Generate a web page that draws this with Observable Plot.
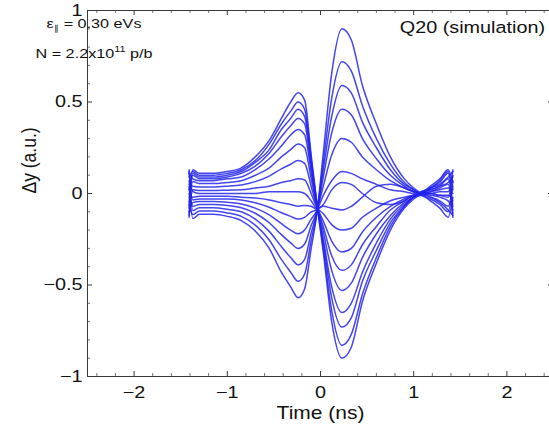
<!DOCTYPE html>
<html>
<head>
<meta charset="utf-8">
<script src="https://cdn.jsdelivr.net/npm/d3@7"></script>
<script src="https://cdn.jsdelivr.net/npm/@observablehq/plot@0.6"></script>
<style>
  html, body { margin: 0; padding: 0; background: #fff; overflow: hidden; }
  #chart { width: 549px; height: 428px; overflow: hidden; }
  #chart svg { max-width: none !important; }
</style>
</head>
<body>
<div id="chart"></div>
<script>
// Shared time samples (ns)
const times = [-1.41, -1.37, -1.3, -1.15, -1.0, -0.85, -0.7, -0.55, -0.42, -0.32, -0.24, -0.17, -0.1, -0.04, 0.03, 0.12, 0.23, 0.33, 0.45, 0.6, 0.75, 0.9, 1.0, 1.08, 1.18, 1.28, 1.37, 1.42];

// Δy traces (a.u.), one per turn
const t01 = [-0.05, 0.13, 0.11, 0.11, 0.12, 0.14, 0.20, 0.29, 0.41, 0.50, 0.55, 0.51, 0.21, -0.05, -0.32, -0.70, -0.90, -0.84, -0.59, -0.38, -0.20, -0.08, -0.03, 0.00, 0.04, 0.08, 0.13, 0.06];
const t02 = [0.09, 0.12, 0.10, 0.10, 0.11, 0.13, 0.18, 0.27, 0.38, 0.45, 0.50, 0.46, 0.19, -0.05, -0.30, -0.64, -0.83, -0.77, -0.55, -0.35, -0.18, -0.07, -0.02, 0.01, 0.03, 0.07, 0.12, -0.11];
const t03 = [-0.12, 0.11, 0.09, 0.09, 0.10, 0.12, 0.17, 0.24, 0.35, 0.41, 0.46, 0.42, 0.17, -0.05, -0.27, -0.57, -0.73, -0.68, -0.48, -0.31, -0.16, -0.07, -0.02, -0.01, 0.03, 0.06, 0.11, 0.02];
const t04 = [0.02, 0.10, 0.08, 0.08, 0.09, 0.11, 0.15, 0.22, 0.31, 0.37, 0.41, 0.38, 0.14, -0.06, -0.25, -0.51, -0.65, -0.60, -0.43, -0.27, -0.14, -0.06, -0.02, 0.00, 0.03, 0.05, 0.09, 0.12];
const t05 = [0.11, 0.08, 0.07, 0.07, 0.08, 0.09, 0.13, 0.19, 0.26, 0.32, 0.35, 0.32, 0.12, -0.06, -0.21, -0.42, -0.53, -0.49, -0.35, -0.22, -0.12, -0.05, -0.02, 0.01, 0.02, 0.04, 0.08, -0.07];
const t06 = [-0.08, 0.065, 0.054, 0.054, 0.06, 0.07, 0.10, 0.14, 0.20, 0.24, 0.27, 0.25, 0.08, -0.06, -0.18, -0.34, -0.42, -0.39, -0.28, -0.18, -0.09, -0.04, -0.01, 0.00, 0.02, 0.04, 0.06, 0.09];
const t07 = [0.05, 0.04, 0.036, 0.036, 0.04, 0.047, 0.065, 0.095, 0.135, 0.16, 0.18, 0.165, 0.04, -0.07, -0.15, -0.26, -0.32, -0.30, -0.21, -0.13, -0.07, -0.03, -0.01, -0.01, 0.01, 0.03, 0.05, -0.13];
const t08 = [-0.13, 0.02, 0.016, 0.016, 0.018, 0.02, 0.03, 0.04, 0.06, 0.07, 0.08, 0.074, 0.00, -0.075, -0.11, -0.17, -0.20, -0.19, -0.13, -0.08, -0.04, -0.02, -0.01, 0.00, 0.01, 0.02, 0.03, 0.00];
const t09 = [0.12, 0.01, 0.00, 0.00, 0.00, 0.00, 0.00, 0.01, 0.01, 0.01, 0.01, 0.00, -0.04, -0.08, -0.07, -0.08, -0.09, -0.07, -0.02, 0.04, 0.05, 0.03, 0.01, 0.00, 0.00, 0.01, 0.01, 0.10];
const t10 = [-0.02, -0.02, -0.015, -0.015, -0.015, -0.02, -0.025, -0.035, -0.05, -0.06, -0.07, -0.065, -0.07, -0.085, -0.06, 0.02, 0.06, 0.05, 0.00, -0.05, -0.06, -0.04, -0.01, 0.00, 0.00, -0.01, -0.01, -0.04];
const t11 = [0.07, -0.035, -0.03, -0.03, -0.03, -0.035, -0.05, -0.075, -0.105, -0.125, -0.14, -0.13, -0.10, -0.088, -0.01, 0.07, 0.12, 0.11, 0.08, 0.05, 0.02, 0.01, 0.00, 0.00, 0.00, -0.01, -0.02, 0.13];
const t12 = [-0.10, -0.05, -0.044, -0.044, -0.048, -0.057, -0.08, -0.117, -0.165, -0.20, -0.22, -0.20, -0.14, -0.093, 0.04, 0.21, 0.30, 0.28, 0.20, 0.13, 0.07, 0.03, 0.01, 0.00, -0.01, -0.02, -0.04, -0.09];
const t13 = [0.00, -0.07, -0.06, -0.06, -0.066, -0.078, -0.108, -0.16, -0.225, -0.27, -0.30, -0.276, -0.175, -0.098, 0.09, 0.33, 0.46, 0.43, 0.30, 0.19, 0.10, 0.04, 0.01, 0.00, -0.02, -0.04, -0.07, 0.04];
const t14 = [0.13, -0.094, -0.078, -0.078, -0.086, -0.10, -0.14, -0.207, -0.29, -0.35, -0.39, -0.36, -0.215, -0.103, 0.13, 0.42, 0.59, 0.55, 0.39, 0.25, 0.13, 0.05, 0.02, 0.00, -0.02, -0.05, -0.09, -0.12];
const t15 = [-0.06, -0.115, -0.096, -0.096, -0.106, -0.125, -0.173, -0.254, -0.36, -0.43, -0.48, -0.44, -0.256, -0.109, 0.17, 0.52, 0.72, 0.67, 0.48, 0.30, 0.16, 0.06, 0.02, -0.01, -0.03, -0.06, -0.10, 0.07];
const t16 = [0.04, -0.137, -0.114, -0.114, -0.125, -0.148, -0.205, -0.30, -0.43, -0.51, -0.57, -0.52, -0.30, -0.114, 0.22, 0.655, 0.90, 0.84, 0.59, 0.38, 0.20, 0.08, 0.03, 0.00, -0.04, -0.08, -0.13, -0.02];

const traces = [t01, t02, t03, t04, t05, t06, t07, t08, t09, t10, t11, t12, t13, t14, t15, t16];

// Axis ticks
const xTicks = [-2, -1, 0, 1, 2];
const xMinorTicks = [-2.4, -2.2, -1.8, -1.6, -1.4, -1.2, -0.8, -0.6, -0.4, -0.2, 0.2, 0.4, 0.6, 0.8, 1.2, 1.4, 1.6, 1.8, 2.2, 2.4];
const yTicks = [-1, -0.5, 0, 0.5, 1];
const yMinorTicks = [-0.9, -0.8, -0.7, -0.6, -0.4, -0.3, -0.2, -0.1, 0.1, 0.2, 0.3, 0.4, 0.6, 0.7, 0.8, 0.9];

const rows = [];
traces.forEach((ys, k) => ys.forEach((y, i) => rows.push({trace: k, t: times[i], y})));

const W = 560, H = 428;
const mL = 87, mR = 7, mT = 10, mB = 52;
const pw = W - mL - mR, ph = H - mT - mB;
const axisColor = "#3a3a3a";
const stretch = 1.2; // the reference's lettering is horizontally widened
const fmt = d => (d < 0 ? "\u2212" : "") + Math.abs(d);

const plot = Plot.plot({
  width: W,
  height: H,
  marginLeft: mL,
  marginRight: mR,
  marginTop: mT,
  marginBottom: mB,
  style: {fontFamily: "'Liberation Sans', Arial, sans-serif", fontSize: "16px", color: "#111", background: "#fff", maxWidth: "none"},
  x: {domain: [-2.5, 2.5]},
  y: {domain: [-1, 1]},
  marks: [
    Plot.line(rows, {x: "t", y: "y", z: "trace", stroke: "#2323ee", strokeWidth: 1.5, strokeOpacity: 0.85, curve: "monotone-x"}),
    Plot.frame({stroke: axisColor, strokeWidth: 1}),
    Plot.tickX(xTicks, {x: d => d, insetTop: ph - 5, stroke: axisColor}),
    Plot.tickX(xTicks, {x: d => d, insetBottom: ph - 5, stroke: axisColor}),
    Plot.tickX(xMinorTicks, {x: d => d, insetTop: ph - 3, stroke: axisColor, strokeOpacity: 0.7}),
    Plot.tickX(xMinorTicks, {x: d => d, insetBottom: ph - 3, stroke: axisColor, strokeOpacity: 0.7}),
    Plot.tickY(yTicks, {y: d => d, insetRight: pw - 5, stroke: axisColor}),
    Plot.tickY(yTicks, {y: d => d, insetLeft: pw - 5, stroke: axisColor}),
    Plot.tickY(yMinorTicks, {y: d => d, insetRight: pw - 3, stroke: axisColor, strokeOpacity: 0.7}),
    Plot.tickY(yMinorTicks, {y: d => d, insetLeft: pw - 3, stroke: axisColor, strokeOpacity: 0.7}),
    Plot.axisX(xTicks, {tickSize: 0, tickPadding: 10, tickFormat: fmt, label: null, fill: "#111", fontSize: 16.5}),
    Plot.axisY(yTicks, {tickSize: 0, tickPadding: 5, tickFormat: fmt, label: null, fill: "#111", fontSize: 16.5}),
    Plot.text(["Time (ns)"], {frameAnchor: "bottom", dy: 37, lineAnchor: "middle", fontSize: 17.5, fill: "#111"}),
    Plot.text(["\u0394y (a.u.)"], {frameAnchor: "left", dx: -58, rotate: -90, lineAnchor: "middle", fontSize: 17.5, fill: "#111"})
  ]
});

document.getElementById("chart").appendChild(plot);

const svg = d3.select(plot);

// Widen lettering horizontally (about each text's own anchor point)
svg.selectAll("text").each(function () {
  const t = d3.select(this);
  let tr = t.attr("transform") || "";
  const x = t.attr("x");
  if (x != null && !isNaN(+x)) {
    tr = `${tr} translate(${+x},0)`;
    t.attr("x", null);
  }
  const rotated = /rotate/.test(tr);
  t.attr("transform", `${tr} ${rotated ? `scale(1,${stretch})` : `scale(${stretch},1)`}`);
});

// Annotations with sub/superscripts (positioned by x/y, widened about their anchor)
const widen = x0 => `translate(${x0},0) scale(${stretch},1) translate(${-x0},0)`;
const ann = svg.append("g")
  .attr("font-family", "'Liberation Sans', Arial, sans-serif")
  .attr("font-size", 13.5)
  .attr("fill", "#111");
const ax = mL + 7;
const l1 = ann.append("text").attr("x", ax).attr("y", 28).attr("transform", widen(ax));
l1.append("tspan").text("\u03b5");
l1.append("tspan").attr("font-size", 8).attr("dy", 3).text("\u2225");
l1.append("tspan").attr("dy", -3).text(" = 0.30 eVs");
const l2 = ann.append("text").attr("x", ax).attr("y", 58).attr("transform", widen(ax));
l2.append("tspan").text("N = 2.2x10");
l2.append("tspan").attr("font-size", 9).attr("dy", -6).text("11");
l2.append("tspan").attr("dy", 6).text(" p/b");
const qx = W - mR - 8;
ann.append("text")
  .attr("x", qx).attr("y", 33)
  .attr("transform", widen(qx))
  .attr("text-anchor", "end")
  .attr("font-size", 16.5)
  .text("Q20 (simulation)");
</script>
</body>
</html>
